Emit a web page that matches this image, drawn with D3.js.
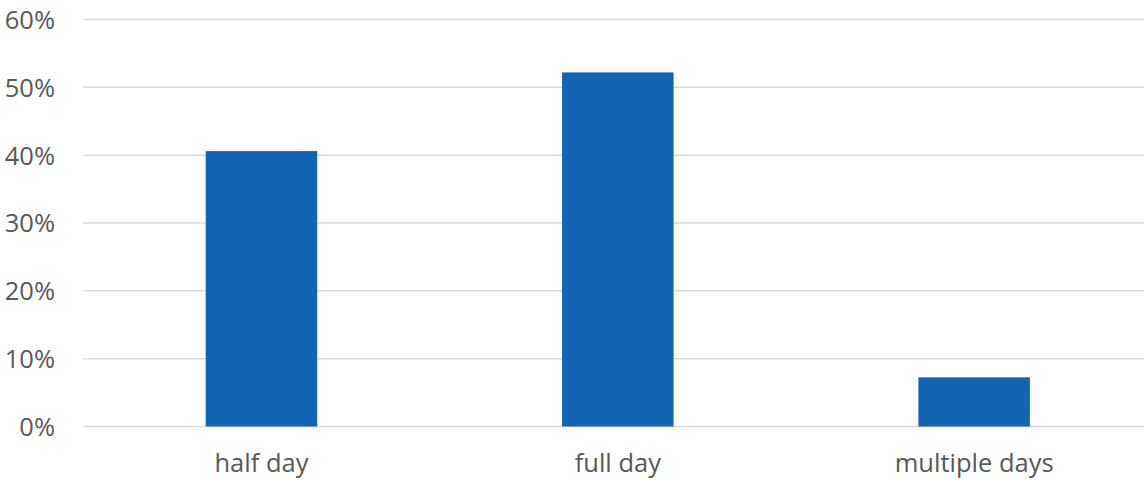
<!DOCTYPE html>
<html><head><meta charset="utf-8">
<script src="https://cdn.jsdelivr.net/npm/d3@7"></script>
<style>html,body{margin:0;padding:0;background:#fff;overflow:hidden}</style>
</head><body>
<svg id="c" width="1144" height="481"></svg>
<script>
const categories = ["half day", "full day", "multiple days"];
const values = [0.406, 0.522, 0.0725];
const yTicks = [0, 0.1, 0.2, 0.3, 0.4, 0.5, 0.6];

const svg = d3.select("#c");
const x = d3.scaleBand().domain(categories).range([83.3, 1152.3]).paddingInner(0.687).paddingOuter(0.3435);
const y = d3.scaleLinear().domain([0, 0.6]).range([426.5, 19.5]);
const font = "'Open Sans', sans-serif";

const g = svg.append("g");
g.selectAll("line.grid").data(yTicks).enter().append("line")
  .attr("x1", 83.3).attr("x2", 1144)
  .attr("y1", d => y(d)).attr("y2", d => y(d))
  .attr("stroke", "#d9d9d9").attr("stroke-width", 1.5);

const yAxis = d3.axisLeft(y).tickValues(yTicks).tickFormat(d3.format(".0%")).tickSize(0).tickPadding(0);
const ya = svg.append("g").attr("transform", "translate(55,0)").call(yAxis);
ya.select(".domain").remove();
ya.selectAll("text").attr("font-family", font).attr("font-size", 25.5).attr("fill", "#595959").attr("dy", "0.35em");

g.selectAll("rect.bar").data(values).enter().append("rect")
  .attr("x", (d, i) => x(categories[i]))
  .attr("width", x.bandwidth())
  .attr("y", d => y(d))
  .attr("height", d => y(0) - y(d))
  .attr("fill", "#1464b4");

const xAxis = d3.axisBottom(x).tickSize(0).tickPadding(0);
const xa = svg.append("g").attr("transform", "translate(0,472)").call(xAxis);
xa.select(".domain").remove();
xa.selectAll("text").attr("font-family", font).attr("font-size", 25.5).attr("fill", "#595959").attr("dy", 0);
</script>
</body></html>
